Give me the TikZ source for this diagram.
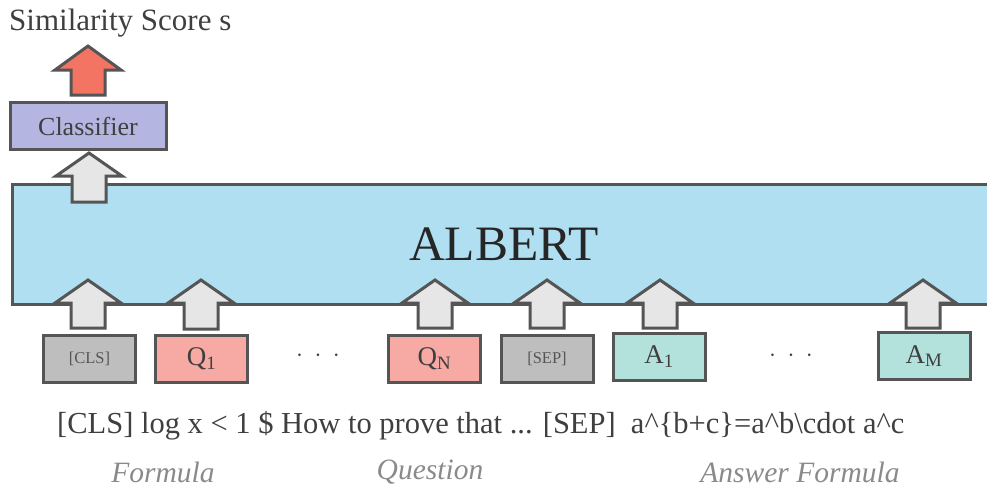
\documentclass[tikz,border=0pt]{standalone}
\usepackage{fontspec}
\setmainfont{Liberation Serif}
\definecolor{bordc}{HTML}{555555}
\definecolor{albertc}{HTML}{B0DFF1}
\definecolor{clsc}{HTML}{B4B6E1}
\definecolor{graytok}{HTML}{BEBEBE}
\definecolor{qtok}{HTML}{F7A9A3}
\definecolor{atok}{HTML}{B3E1DB}
\definecolor{arrgray}{HTML}{E6E6E6}
\definecolor{arrred}{HTML}{F47464}
\definecolor{txtc}{HTML}{3F3F3F}
\definecolor{labc}{HTML}{8A8A8A}
\newcommand\blockarrow[5]{% style, center x, tip y, base y, bottom y
  \draw[blockarr,#1] (#2-33,#4) -- (#2,#3) -- (#2+33,#4) -- (#2+17,#4) -- (#2+17,#5) -- (#2-17,#5) -- (#2-17,#4) -- cycle;}
\tikzset{
  box/.style={draw=bordc, line width=3pt, inner sep=0pt},
  tok/.style={box, minimum width=92pt, minimum height=47pt, text=txtc, font=\fontsize{27}{30}\selectfont},
  smalltok/.style={tok, fill=graytok, font=\fontsize{16.5}{19}\selectfont, text=bordc},
  blockarr/.style={draw=bordc, line width=3pt, line join=miter},
  dotsn/.style={text=txtc, font=\fontsize{24}{26}\selectfont},
  lab/.style={text=labc, font=\fontsize{29.5}{32}\selectfont\itshape},
}
\begin{document}
\begin{tikzpicture}[x=1pt,y=-1pt]
\useasboundingbox (0,0) rectangle (987,488);
% title
\node[anchor=base west, inner sep=0pt, text=txtc, font=\fontsize{31}{34}\selectfont] (score) at (9,30) {Similarity Score s};
% ALBERT (runs past the right edge)
\node[box, fill=albertc, minimum width=984pt, minimum height=120pt, text=black!85, font=\fontsize{49.5}{54}\selectfont] (albert) at (504,244) {ALBERT};
% classifier
\node[box, fill=clsc, minimum width=156pt, minimum height=47pt, text=txtc, font=\fontsize{26}{29}\selectfont] (clf) at (88,126) {Classifier};
% tokens
\node[smalltok] (cls) at (89.5,358.5) {[CLS]};
\node[tok, fill=qtok] (q1) at (201.5,358.5) {Q\textsubscript{1}};
\node[dotsn] (d1) at (318,356) {$\cdot\ \cdot\ \cdot$};
\node[tok, fill=qtok] (qn) at (434.5,358.5) {Q\textsubscript{N}};
\node[smalltok] (sep) at (547,359) {[SEP]};
\node[tok, fill=atok] (a1) at (659,357) {A\textsubscript{1}};
\node[dotsn] (d2) at (791,356) {$\cdot\ \cdot\ \cdot$};
\node[tok, fill=atok] (am) at (924,356) {A\textsubscript{M}};
% arrows
\blockarrow{fill=arrred}{88}{46}{70}{95}
\blockarrow{fill=arrgray}{89}{153}{176}{202}
\blockarrow{fill=arrgray}{88}{280}{303}{328}
\blockarrow{fill=arrgray}{201}{280}{303}{329}
\blockarrow{fill=arrgray}{435}{280}{303}{328}
\blockarrow{fill=arrgray}{547}{280}{303}{328}
\blockarrow{fill=arrgray}{660}{280}{303}{328}
\blockarrow{fill=arrgray}{923}{280}{303}{328}
% input text
\node[anchor=base west, inner sep=0pt, text=txtc, font=\fontsize{30.5}{34}\selectfont] (inp) at (57,433) {[CLS] log x < 1 \$ How to prove that ... [SEP]\ \ a\^{}\{b+c\}=a\^{}b\textbackslash cdot a\^{}c};
\node[lab] (l1) at (163,472) {Formula};
\node[lab] (l2) at (430,472) {Question};
\node[lab] (l3) at (800,472) {Answer Formula};
\end{tikzpicture}
\end{document}
